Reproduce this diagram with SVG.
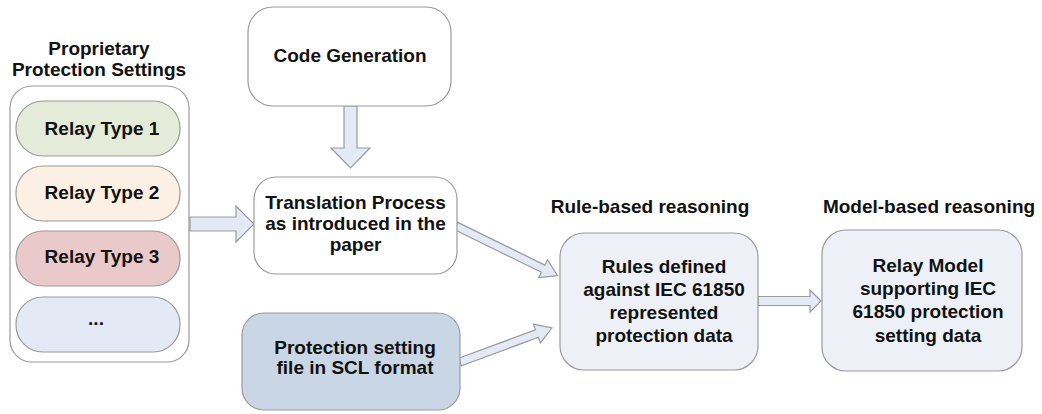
<svg xmlns="http://www.w3.org/2000/svg" width="1042" height="414" viewBox="0 0 1042 414">
<style>
text{font-family:"Liberation Sans",Arial,sans-serif;font-weight:bold;font-size:19px;fill:#111;text-anchor:middle}
.box{stroke:#9a9a9a;stroke-width:1.2}
.arr{fill:#e3eaf6;stroke:#9a9a9a;stroke-width:1.2;stroke-linejoin:miter}
</style>
<rect width="1042" height="414" fill="#fff"/>
<g id="connectors">
<path class="arr" d="M0,-7 L46,-7 L46,-18 L64,0 L46,18 L46,7 L0,7 Z" transform="translate(190,224)"/>
<path class="arr" d="M0,-6.5 L42,-6.5 L42,-19.5 L62,0 L42,19.5 L42,6.5 L0,6.5 Z" transform="translate(350.5,106) rotate(90)"/>
<path class="arr" d="M0,-4.5 L52,-4.5 L52,-11 L63,0 L52,11 L52,4.5 L0,4.5 Z" transform="translate(758,301)"/>
<path class="arr" d="M0,-4 L97,-4 L97,-10 L113,0 L97,10 L97,4 L0,4 Z" transform="translate(456,226) rotate(26.1)"/>
<path class="arr" d="M0,-4 L82,-4 L82,-10 L98,0 L82,10 L82,4 L0,4 Z" transform="translate(460,362) rotate(-20.3)"/>
</g>
<g id="proprietary">
<text x="99" y="55">Proprietary</text>
<text x="99" y="76">Protection Settings</text>
<rect class="box" x="10" y="86" width="179" height="276" rx="22" fill="#fff"/>
</g>
<g id="relay1">
<rect class="box" x="16" y="101" width="164" height="55" rx="27" fill="#e4ebd9"/>
<text x="102" y="135">Relay Type 1</text>
</g>
<g id="relay2">
<rect class="box" x="16" y="166" width="164" height="55" rx="27" fill="#fcefe3"/>
<text x="102" y="199">Relay Type 2</text>
</g>
<g id="relay3">
<rect class="box" x="16" y="231" width="164" height="55" rx="27" fill="#e9c9c9"/>
<text x="102" y="263">Relay Type 3</text>
</g>
<g id="relay-more">
<rect class="box" x="16" y="297" width="164" height="55" rx="27" fill="#e3eaf5"/>
<text x="96" y="325">...</text>
</g>
<g id="codegen">
<rect class="box" x="248" y="7" width="203" height="99" rx="25" fill="#fff"/>
<text x="350" y="62">Code Generation</text>
</g>
<g id="translation">
<rect class="box" x="254" y="177" width="203" height="97" rx="22" fill="#fff"/>
<text x="355.5" y="209">Translation Process</text>
<text x="355.5" y="230">as introduced in the</text>
<text x="355.5" y="251">paper</text>
</g>
<g id="scl">
<rect class="box" x="242" y="313" width="218" height="97" rx="22" fill="#c9d6e6"/>
<text x="355" y="354">Protection setting</text>
<text x="355" y="374">file in SCL format</text>
</g>
<g id="rules">
<text x="650" y="213">Rule-based reasoning</text>
<rect class="box" x="560" y="233" width="198" height="137" rx="24" fill="#edf1f7"/>
<text x="664" y="273">Rules defined</text>
<text x="664" y="296">against IEC 61850</text>
<text x="664" y="319">represented</text>
<text x="664" y="342">protection data</text>
</g>
<g id="model">
<text x="929" y="213">Model-based reasoning</text>
<rect class="box" x="822" y="230" width="200" height="141" rx="24" fill="#edf1f7"/>
<text x="928" y="272">Relay Model</text>
<text x="928" y="295">supporting IEC</text>
<text x="928" y="318">61850 protection</text>
<text x="928" y="342">setting data</text>
</g>
</svg>
